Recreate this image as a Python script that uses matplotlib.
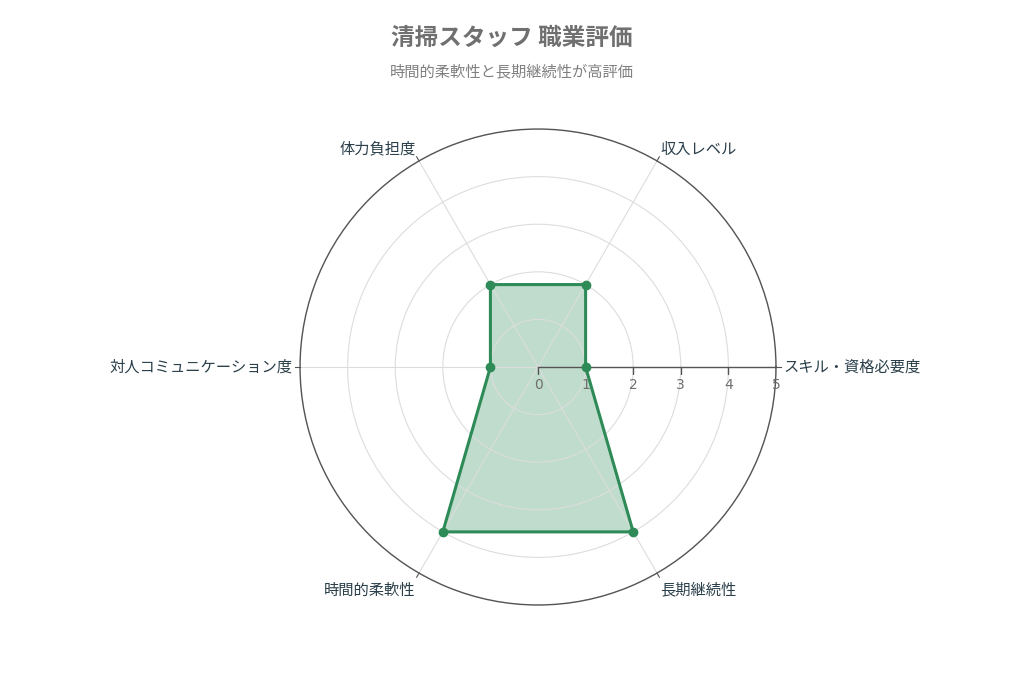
import numpy as np
import matplotlib
matplotlib.use("Agg")
import matplotlib.pyplot as plt

plt.rcParams['font.family'] = ['Noto Sans CJK JP', 'DejaVu Sans']

categories = ["スキル・資格必要度", "収入レベル", "体力負担度",
              "対人コミュニケーション度", "時間的柔軟性", "長期継続性"]
values = [1, 2, 2, 1, 4, 4]
rticks = [0, 1, 2, 3, 4, 5]

title = "清掃スタッフ 職業評価"
subtitle = "時間的柔軟性と長期継続性が高評価"

green = "#2e8b57"
label_color = "#2a3f4a"

angles = np.deg2rad(np.arange(len(categories)) * 60)

fig = plt.figure(figsize=(10.24, 6.83), dpi=100)
ax = fig.add_axes([0.2930, 0.1142, 0.4648, 0.6969], projection="polar")

# closed polygon
a = np.append(angles, angles[0])
v = np.append(values, values[0])
ax.fill(a, v, color=green, alpha=0.3, linewidth=0)
ax.plot(a, v, color=green, linewidth=2.2, zorder=4)
ax.plot(angles, values, "o", color=green, markersize=6, zorder=5)

ax.set_ylim(0, 5)
ax.set_yticks(rticks[1:])
ax.set_yticklabels([])
ax.set_xticks(angles)
ax.set_xticklabels([])
ax.grid(color="#dddddd", linewidth=0.8)
ax.spines["polar"].set_color("#555555")
ax.spines["polar"].set_linewidth(1.0)
ax.tick_params(axis="x", length=0)

# radial axis line with ticks and labels
ax.plot([0, 0], [0, 5], color="#555555", linewidth=1.0, zorder=3)
ax.plot(np.zeros(len(rticks)), rticks, linestyle="none", marker=3,
        markersize=5, color="#555555", zorder=3)
for r in rticks:
    ax.annotate(str(r), (0, r), xytext=(0, -8), textcoords="offset points",
                ha="center", va="top", fontsize=10, color="#6f6f6f",
                family=["DejaVu Sans"], annotation_clip=False)

# angular ticks outside circle
for ang in angles:
    ax.plot([ang, ang], [5, 5.1], color="#555555", linewidth=0.8,
            clip_on=False)

# category labels
aligns = [("left", "center"), ("left", "bottom"), ("right", "bottom"),
          ("right", "center"), ("right", "top"), ("left", "top")]
for ang, lab, (ha, va) in zip(angles, categories, aligns):
    dy = 0 if va == "center" else -2
    ax.annotate(lab, (ang, 5.15), xytext=(0, dy), textcoords="offset points",
                ha=ha, va=va, fontsize=11, color=label_color,
                annotation_clip=False)

fig.text(0.5, 0.945, title, ha="center", va="center", fontsize=17,
         fontweight="bold", color="#707070")
fig.text(0.5, 0.893, subtitle, ha="center", va="center", fontsize=11,
         color="#808080")

fig.savefig("out.png", dpi=100, facecolor="white")
